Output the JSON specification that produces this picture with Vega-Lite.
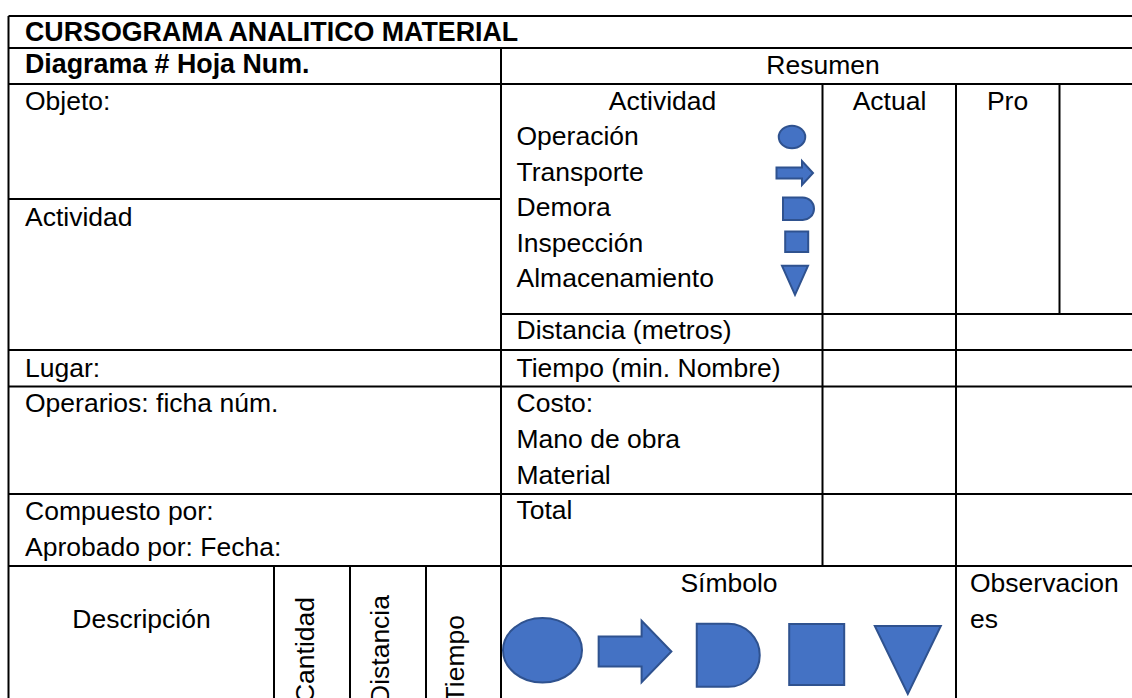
{
"$schema":"https://vega.github.io/schema/vega-lite/v6.json",
"width":1132,"height":698,"padding":0,"autosize":{"type":"none"},"background":"white",
"config":{"view":{"stroke":null}},
"datasets":{
"lines":[
{"x":8.5,"x2":1132,"y":16,"y2":16},
{"x":8.5,"x2":1132,"y":48,"y2":48},
{"x":8.5,"x2":1132,"y":84,"y2":84},
{"x":8.5,"x2":501,"y":199,"y2":199},
{"x":501,"x2":1132,"y":314,"y2":314},
{"x":8.5,"x2":1132,"y":350,"y2":350},
{"x":8.5,"x2":1132,"y":386.5,"y2":386.5},
{"x":8.5,"x2":1132,"y":494,"y2":494},
{"x":8.5,"x2":1132,"y":566,"y2":566},
{"x":8.5,"x2":8.5,"y":16,"y2":698},
{"x":501,"x2":501,"y":48,"y2":698},
{"x":822.5,"x2":822.5,"y":84,"y2":566},
{"x":956,"x2":956,"y":84,"y2":698},
{"x":1059.5,"x2":1059.5,"y":84,"y2":314},
{"x":274,"x2":274,"y":566,"y2":698},
{"x":350,"x2":350,"y":566,"y2":698},
{"x":426,"x2":426,"y":566,"y2":698}
],
"left":[
{"x":25,"y":110,"t":"Objeto:"},
{"x":25,"y":226,"t":"Actividad"},
{"x":25,"y":376.7,"t":"Lugar:"},
{"x":25,"y":412.2,"t":"Operarios: ficha núm."},
{"x":25,"y":519.7,"t":"Compuesto por:"},
{"x":25,"y":555.7,"t":"Aprobado por: Fecha:"},
{"x":516.5,"y":144.7,"t":"Operación"},
{"x":516.5,"y":180.7,"t":"Transporte"},
{"x":516.5,"y":216.2,"t":"Demora"},
{"x":516.5,"y":252.2,"t":"Inspección"},
{"x":516.5,"y":287.2,"t":"Almacenamiento"},
{"x":516.5,"y":338.7,"t":"Distancia (metros)"},
{"x":516.5,"y":376.7,"t":"Tiempo (min. Nombre)"},
{"x":516.5,"y":412.2,"t":"Costo:"},
{"x":516.5,"y":447.7,"t":"Mano de obra"},
{"x":516.5,"y":483.7,"t":"Material"},
{"x":516.5,"y":519.2,"t":"Total"},
{"x":970,"y":592.2,"t":"Observacion"},
{"x":970,"y":627.7,"t":"es"}
],
"bold":[
{"x":25,"y":40.7,"t":"CURSOGRAMA ANALITICO MATERIAL"},
{"x":25,"y":73.2,"t":"Diagrama # Hoja Num."}
],
"center":[
{"x":823,"y":73.5,"t":"Resumen"},
{"x":662.5,"y":110,"t":"Actividad"},
{"x":889.5,"y":110,"t":"Actual"},
{"x":1007.5,"y":110,"t":"Pro"},
{"x":729,"y":592.2,"t":"Símbolo"},
{"x":141.5,"y":627.7,"t":"Descripción"}
],
"rot":[
{"x":314,"y":597,"t":"Cantidad"},
{"x":389,"y":595,"t":"Distancia"},
{"x":464,"y":615,"t":"Tiempo"}
],
"shapes":[
{"x":792,"y":137,"s":"a1"},
{"x":795,"y":173,"s":"a2"},
{"x":798.5,"y":208.7,"s":"a3"},
{"x":796.7,"y":241.7,"s":"a4"},
{"x":795,"y":280.8,"s":"a5"},
{"x":542.5,"y":650.3,"s":"b1"},
{"x":635.4,"y":651.5,"s":"b2"},
{"x":728.25,"y":655.35,"s":"b3"},
{"x":816.7,"y":654.6,"s":"b4"},
{"x":907.8,"y":661,"s":"b5"}
]},
"encoding":{
"x":{"field":"x","type":"quantitative","scale":{"domain":[0,1132],"nice":false,"zero":false},"axis":null},
"y":{"field":"y","type":"quantitative","scale":{"domain":[698,0],"nice":false,"zero":false},"axis":null}
},
"layer":[
{"data":{"name":"lines"},"mark":{"type":"rule","stroke":"#000000","strokeWidth":2},
 "encoding":{"x2":{"field":"x2"},"y2":{"field":"y2"}}},
{"data":{"name":"shapes"},"mark":{"type":"point","filled":true,"fill":"#4472C4","stroke":"#2F528F","strokeWidth":2,"opacity":1,"fillOpacity":1,"strokeOpacity":1,"size":10000,"clip":true},
 "encoding":{"shape":{"field":"s","type":"nominal","legend":null,"scale":{"domain":["a1","a2","a3","a4","a5","b1","b2","b3","b4","b5"],"range":[
 "M-0.265,0A0.265,0.225,0,1,1,0.265,0A0.265,0.225,0,1,1,-0.265,0Z",
 "M-0.37,-0.11L0.14,-0.11L0.14,-0.24L0.36,0L0.14,0.24L0.14,0.11L-0.37,0.11Z",
 "M-0.31,-0.225L0.085,-0.225A0.225,0.225,0,0,1,0.085,0.225L-0.31,0.225Z",
 "M-0.23,-0.205L0.23,-0.205L0.23,0.205L-0.23,0.205Z",
 "M-0.26,-0.3L0.26,-0.3L0,0.28Z",
 "M-0.79,0A0.79,0.645,0,1,1,0.79,0A0.79,0.645,0,1,1,-0.79,0Z",
 "M-0.735,-0.3L0.124,-0.3L0.124,-0.615L0.72,0L0.124,0.615L0.124,0.3L-0.735,0.3Z",
 "M-0.63,-0.63L0,-0.63A0.63,0.63,0,0,1,0,0.63L-0.63,0.63Z",
 "M-0.55,-0.61L0.55,-0.61L0.55,0.61L-0.55,0.61Z",
 "M-0.66,-0.7L0.66,-0.7L0,0.66Z"
 ]}}}},
{"data":{"name":"left"},"mark":{"type":"text","align":"left","baseline":"alphabetic","font":"Liberation Sans","fontSize":26.5,"fill":"#000000"},"encoding":{"text":{"field":"t"}}},
{"data":{"name":"bold"},"mark":{"type":"text","align":"left","baseline":"alphabetic","font":"Liberation Sans","fontWeight":"bold","fontSize":26.8,"fill":"#000000"},"encoding":{"text":{"field":"t"}}},
{"data":{"name":"center"},"mark":{"type":"text","align":"center","baseline":"alphabetic","font":"Liberation Sans","fontSize":26.5,"fill":"#000000"},"encoding":{"text":{"field":"t"}}},
{"data":{"name":"rot"},"mark":{"type":"text","align":"right","baseline":"alphabetic","angle":270,"font":"Liberation Sans","fontSize":26.5,"fill":"#000000","clip":true},"encoding":{"text":{"field":"t"}}}
]
}
